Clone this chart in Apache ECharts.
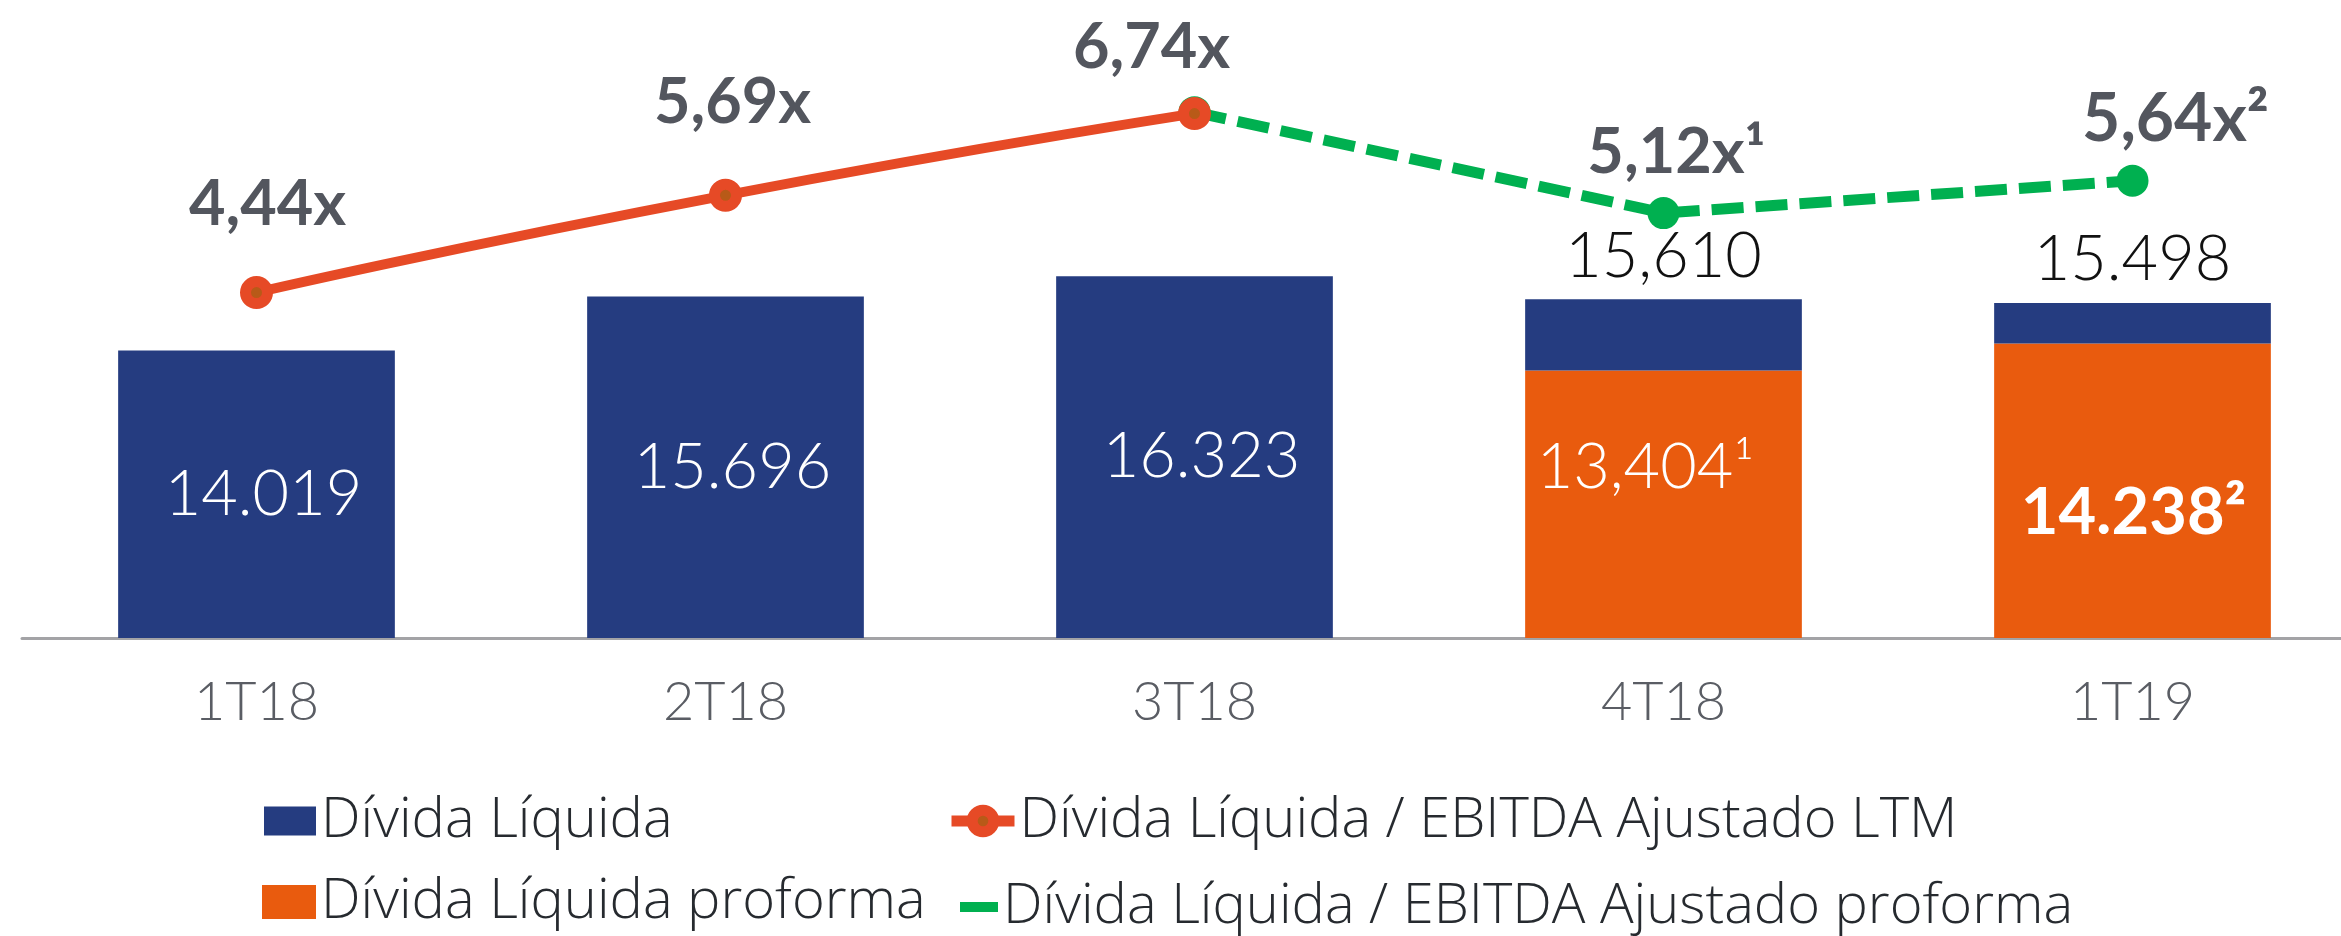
<!DOCTYPE html>
<html>
<head>
<meta charset="utf-8">
<script src="https://cdn.jsdelivr.net/npm/echarts@6/dist/echarts.min.js"></script>
<style>
  html, body { margin: 0; padding: 0; background: #fff; overflow: hidden; }
  #chart { width: 2367px; height: 936px; }
</style>
</head>
<body>
<div id="chart"></div>
<script>
// categorias e valores
const quarters = ['1T18', '2T18', '3T18', '4T18', '1T19'];
const netDebtTotal = [14019, 15696, 16323, 15610, 15498];
const netDebtProforma = [null, null, null, 13404, 14238];
const ratioLtm = [4.44, 5.69, 6.74, null, null];
const ratioProforma = [null, null, 6.74, 5.12, 5.64];

const totalLabels = ['14.019', '15.696', '16.323', '15,610', '15.498'];
const proformaLabels = ['', '', '', '13,404¹', '14.238²'];
const ltmLabels = ['4,44x', '5,69x', '6,74x', '', ''];
const proformaRatioLabels = ['', '', '', '5,12x¹', '5,64x²'];

const BLUE = '#253c80';
const ORANGE = '#e95b0e';
const RED = '#e64a26';
const GREEN = '#00b050';
const FONT = 'Lato';
const LEGEND_FONT = 'Open Sans';

const chart = echarts.init(document.getElementById('chart'));

// parte azul = total menos proforma (quando existe)
const blueData = netDebtTotal.map((v, i) => {
  const hasPf = netDebtProforma[i] != null;
  return {
    value: hasPf ? v - netDebtProforma[i] : v,
    label: hasPf
      ? { show: true, position: 'top', distance: 12, color: '#111', formatter: totalLabels[i] }
      : { show: true, position: 'inside', offset: [7, 0], color: '#fff', formatter: totalLabels[i] }
  };
});

const pfOffsets = [[0, 0], [0, 0], [0, 0], [-18, -37], [1, 22]];
const orangeData = netDebtProforma.map((v, i) => ({
  value: v,
  label: {
    show: v != null,
    position: 'inside',
    offset: pfOffsets[i],
    color: '#fff',
    fontWeight: i === 4 ? 'bold' : 300,
    fontSize: i === 4 ? 65 : 63,
    formatter: proformaLabels[i]
  }
}));

const ltmOffsets = [[11, -88], [7, -93], [-43, -66], [0, 0], [0, 0]];
const ltmData = ratioLtm.map((v, i) => ({
  value: v,
  label: { show: v != null, offset: ltmOffsets[i], formatter: ltmLabels[i] }
}));

const pfRatioOffsets = [[0, 0], [0, 0], [0, 0], [13, -60], [43, -61]];
const pfRatioData = ratioProforma.map((v, i) => ({
  value: v,
  label: {
    show: proformaRatioLabels[i] !== '',
    offset: pfRatioOffsets[i],
    fontSize: i === 4 ? 66 : 63,
    formatter: proformaRatioLabels[i]
  }
}));

const legendText = { fontFamily: LEGEND_FONT, fontSize: 56, lineHeight: 60, color: '#262a2f', fontWeight: 300 };

const option = {
  animation: false,
  textStyle: { fontFamily: FONT },
  grid: { left: 22, top: 0, right: 0, height: 638, containLabel: false },
  legend: [
    { left: 264, top: 791, padding: 0, itemWidth: 52, itemHeight: 29, itemGap: 5, icon: 'rect',
      data: ['Dívida Líquida'], textStyle: legendText },
    { left: 262, top: 872, padding: 0, itemWidth: 54, itemHeight: 34, itemGap: 5, icon: 'rect',
      data: ['Dívida Líquida proforma'], textStyle: legendText },
    { left: 946, top: 791, padding: 0, itemWidth: 63, itemHeight: 27, itemGap: 5,
      lineStyle: { width: 11 },
      itemStyle: { borderWidth: 11 },
      data: ['Dívida Líquida / EBITDA Ajustado LTM'], textStyle: legendText },
    { left: 960, top: 877, padding: 0, itemWidth: 38, itemHeight: 10, itemGap: 5,
      data: [{ name: 'Dívida Líquida / EBITDA Ajustado proforma', icon: 'rect' }], textStyle: legendText }
  ],
  xAxis: {
    type: 'category',
    data: quarters,
    axisTick: { show: false },
    axisLine: { lineStyle: { color: '#a3a3a6', width: 3 } },
    axisLabel: { color: '#5a5d64', fontSize: 54, fontWeight: 300, fontFamily: FONT, margin: 38 }
  },
  yAxis: [
    { type: 'value', min: 5100, max: 24900, show: false, splitLine: { show: false } },
    { type: 'value', min: 0, max: 8.2, show: false, splitLine: { show: false } },
    { type: 'value', min: -1.7, max: 8.54, show: false, splitLine: { show: false } }
  ],
  series: [
    {
      name: 'Dívida Líquida proforma',
      type: 'bar',
      stack: 'divida',
      barWidth: '59%',
      itemStyle: { color: ORANGE },
      label: { fontFamily: FONT, fontSize: 63, lineHeight: 62 },
      data: orangeData
    },
    {
      name: 'Dívida Líquida',
      type: 'bar',
      stack: 'divida',
      barWidth: '59%',
      itemStyle: { color: BLUE },
      label: { fontFamily: FONT, fontSize: 63, lineHeight: 62, fontWeight: 300 },
      data: blueData
    },
    {
      name: 'Dívida Líquida / EBITDA Ajustado proforma',
      type: 'line',
      yAxisIndex: 2,
      z: 3,
      symbol: 'circle',
      symbolSize: 32,
      itemStyle: { color: GREEN },
      lineStyle: { color: GREEN, width: 11, type: [32, 12] },
      label: { position: 'inside', fontFamily: FONT, fontWeight: 'bold', color: '#53565e' },
      data: pfRatioData
    },
    {
      name: 'Dívida Líquida / EBITDA Ajustado LTM',
      type: 'line',
      yAxisIndex: 1,
      z: 4,
      smooth: 0.6,
      symbol: 'circle',
      symbolSize: 22,
      itemStyle: { color: '#b85a18', borderColor: RED, borderWidth: 11 },
      lineStyle: { color: RED, width: 10 },
      label: { position: 'inside', fontFamily: FONT, fontSize: 63, fontWeight: 'bold', color: '#53565e' },
      data: ltmData
    }
  ]
};

chart.setOption(option);
</script>
</body>
</html>
